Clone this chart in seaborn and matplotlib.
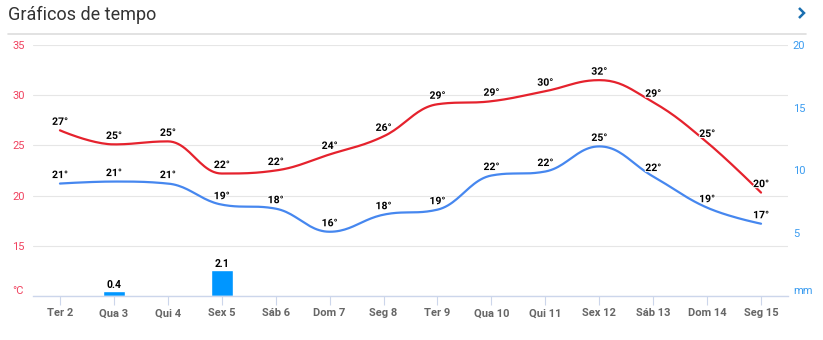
import numpy as np
import pandas as pd
import matplotlib
matplotlib.use("Agg")
import matplotlib.pyplot as plt
import matplotlib.patheffects as pe
from matplotlib.lines import Line2D
import seaborn as sns

# ---------------- data ----------------
days = ["Ter 2", "Qua 3", "Qui 4", "Sex 5", "Sáb 6", "Dom 7", "Seg 8",
        "Ter 9", "Qua 10", "Qui 11", "Sex 12", "Sáb 13", "Dom 14", "Seg 15"]
tmax = [26.5, 25.1, 25.4, 22.2, 22.5, 24.1, 25.9, 29.1, 29.4, 30.4, 31.5, 29.3, 25.3, 20.3]
tmax_labels = [27, 25, 25, 22, 22, 24, 26, 29, 29, 30, 32, 29, 25, 20]
tmin = [21.2, 21.4, 21.2, 19.1, 18.7, 16.4, 18.1, 18.6, 22.0, 22.4, 24.9, 21.9, 18.8, 17.2]
tmin_labels = [21, 21, 21, 19, 18, 16, 18, 19, 22, 22, 25, 22, 19, 17]
precip = [0, 0.4, 0, 2.1, 0, 0, 0, 0, 0, 0, 0, 0, 0, 0]
temp_ticks = [10, 15, 20, 25, 30, 35]
temp_ticklabels = ["°C", "15", "20", "25", "30", "35"]
rain_ticks = [0, 5, 10, 15, 20]
rain_ticklabels = ["mm", "5", "10", "15", "20"]

RED = "#e5222d"
BLUE = "#4687ef"
BAR = "#0096ff"
FONT = ["Roboto", "DejaVu Sans"]

sns.set_theme(style="white")
plt.rcParams["font.family"] = FONT


def spline_curve(xs, ys, n=24, smoothing=1.5):
    """Highcharts-style spline drawn through the data points."""
    xs = np.asarray(xs, float)
    ys = np.asarray(ys, float)
    m = len(xs)
    lc = [(x, y) for x, y in zip(xs, ys)]
    rc = [(x, y) for x, y in zip(xs, ys)]
    d = smoothing + 1
    for i in range(1, m - 1):
        px, py = xs[i], ys[i]
        lx, ly = xs[i - 1], ys[i - 1]
        nx, ny = xs[i + 1], ys[i + 1]
        lcx = (smoothing * px + lx) / d
        lcy = (smoothing * py + ly) / d
        rcx = (smoothing * px + nx) / d
        rcy = (smoothing * py + ny) / d
        if rcx != lcx:
            corr = (rcy - lcy) * (rcx - px) / (rcx - lcx) + py - rcy
            lcy += corr
            rcy += corr
        if lcy > ly and lcy > py:
            lcy = max(ly, py); rcy = 2 * py - lcy
        elif lcy < ly and lcy < py:
            lcy = min(ly, py); rcy = 2 * py - lcy
        if rcy > ny and rcy > py:
            rcy = max(ny, py); lcy = 2 * py - rcy
        elif rcy < ny and rcy < py:
            rcy = min(ny, py); lcy = 2 * py - rcy
        lc[i] = (lcx, lcy)
        rc[i] = (rcx, rcy)
    out_x, out_y = [], []
    t = np.linspace(0, 1, n)
    for i in range(1, m):
        p0 = np.array([xs[i - 1], ys[i - 1]])
        p1 = np.array(rc[i - 1])
        p2 = np.array(lc[i])
        p3 = np.array([xs[i], ys[i]])
        b = ((1 - t) ** 3)[:, None] * p0 + (3 * (1 - t) ** 2 * t)[:, None] * p1 \
            + (3 * (1 - t) * t ** 2)[:, None] * p2 + (t ** 3)[:, None] * p3
        if i > 1:
            b = b[1:]
        out_x.extend(b[:, 0]); out_y.extend(b[:, 1])
    return np.array(out_x), np.array(out_y)


W, H = 823, 340
fig = plt.figure(figsize=(W / 100, H / 100), dpi=100)
fig.patch.set_facecolor("white")
ax = fig.add_axes([33 / W, (H - 296) / H, (788 - 33) / W, (296 - 45) / H])
ax2 = ax.twinx()

xpos = np.arange(len(days))

# precipitation bars (right axis)
df_rain = pd.DataFrame({"day": days, "mm": precip})
sns.barplot(data=df_rain, x="day", y="mm", ax=ax2, color=BAR, width=0.41,
            saturation=1, order=days)
for i, v in enumerate(precip):
    if v > 0:
        ax2.annotate(f"{v:.1f}", (i, v), xytext=(0, 0.5), textcoords="offset points",
                     ha="center", va="bottom", fontsize=7.5, fontweight="bold",
                     color="black", family=FONT)

# temperature lines (left axis)
for vals, labs, col in [(tmax, tmax_labels, RED), (tmin, tmin_labels, BLUE)]:
    cx, cy = spline_curve(xpos, vals)
    sns.lineplot(x=cx, y=cy, ax=ax, color=col, linewidth=1.6, sort=False,
                 estimator=None)
    for i, (v, l) in enumerate(zip(vals, labs)):
        ax.annotate(f"{l}°", (i, v), xytext=(0, 2.5), textcoords="offset points",
                    ha="center", va="bottom", fontsize=7.5, fontweight="bold",
                    color="black", family=FONT,
                    path_effects=[pe.withStroke(linewidth=1.5, foreground="white")])

ax.set_zorder(ax2.get_zorder() + 1)
ax.patch.set_visible(False)

# axes styling
ax.set_xlim(-0.5, len(days) - 0.5)
ax2.set_xlim(-0.5, len(days) - 0.5)
ax.set_ylim(10, 35)
ax2.set_ylim(0, 20)
ax.set_xticks(xpos)
ax.set_xticklabels(days)
ax2.set_xlabel("")
ax2.set_ylabel("")
ax.set_xlabel("")
ax.set_ylabel("")

ax.set_yticks(temp_ticks)
ax.set_yticklabels(temp_ticklabels)
ax2.set_yticks(rain_ticks)
ax2.set_yticklabels(rain_ticklabels)

for a in (ax, ax2):
    for s in ("top", "left", "right", "bottom"):
        a.spines[s].set_visible(False)
ax.spines["bottom"].set_visible(True)
ax.spines["bottom"].set_color("#ccd6eb")
ax.spines["bottom"].set_linewidth(1.0)

ax.grid(axis="y", color="#e6e6e6", linewidth=0.8)
ax.grid(axis="x", visible=False)
ax2.grid(False)

ax.tick_params(axis="x", length=6.5, width=0.8, color="#ccd6eb", pad=2.5,
               labelsize=8, labelcolor="#666666", direction="out", bottom=True)
for t in ax.get_xticklabels():
    t.set_fontweight("bold")
    t.set_family(FONT)
ax2.tick_params(axis="x", bottom=False, labelbottom=False)

ax.tick_params(axis="y", length=0, pad=15, labelsize=8, labelcolor="#f0425f")
for t in ax.get_yticklabels():
    t.set_ha("left")
    t.set_family(FONT)
ax.get_yticklabels()[0].set_va("bottom")
ax2.tick_params(axis="y", length=0, pad=3.5, labelsize=8, labelcolor="#3b9cf0")
for t in ax2.get_yticklabels():
    t.set_family(FONT)
ax2.get_yticklabels()[0].set_va("bottom")

# header
fig.text(8 / W, 1 - 15 / H, "Gráficos de tempo", ha="left", va="center",
         fontsize=13, color="#333333", family=FONT)
fig.add_artist(Line2D([8 / W, 806 / W], [1 - 34 / H, 1 - 34 / H],
                      color="#dddddd", linewidth=1.2, transform=fig.transFigure))
fig.add_artist(Line2D([799 / W, 804 / W, 799 / W], [1 - 8 / H, 1 - 13 / H, 1 - 18 / H],
                      color="#1a6fb0", linewidth=1.8, transform=fig.transFigure,
                      solid_capstyle="butt", solid_joinstyle="miter"))

fig.savefig("out.png", dpi=100, facecolor="white")
